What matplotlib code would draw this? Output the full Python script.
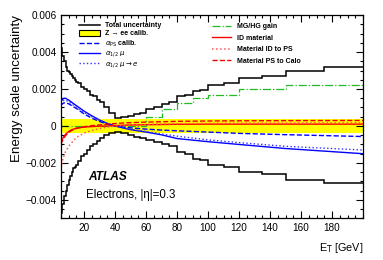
import matplotlib
matplotlib.use("Agg")
import matplotlib.pyplot as plt
import matplotlib.patches as mpatches
from matplotlib.lines import Line2D
from matplotlib.ticker import FixedLocator, MultipleLocator, FuncFormatter
import numpy as np

plt.rcParams['font.family'] = ['Liberation Sans', 'DejaVu Sans']

# total uncertainty, binned (GeV edges)
tot_edges = [5, 6, 7, 8, 9, 10, 11, 12, 13, 14, 15, 16, 18, 20, 22, 24, 26, 28, 30, 33, 36, 40,
             44, 48, 52, 56, 60, 65, 70, 75, 80, 85, 90, 95, 100, 110, 120, 135, 150, 175, 200]
tot_up = [0.0042, 0.0038, 0.0035, 0.0032, 0.0030, 0.0029, 0.0028, 0.0027, 0.0026, 0.0025,
          0.0024, 0.0023, 0.0021, 0.0020, 0.0019, 0.0017, 0.0016, 0.0014, 0.0013, 0.0010,
          0.0007, 0.00045, 0.00048, 0.00055, 0.00065, 0.00072, 0.00093, 0.0010, 0.0012, 0.00128,
          0.0016, 0.00165, 0.0019, 0.00195, 0.0022, 0.0023, 0.0026, 0.0027, 0.0030, 0.0032]
tot_down = [-0.0047, -0.0042, -0.0038, -0.0035, -0.0032, -0.0029, -0.0027, -0.0025, -0.0023, -0.0022,
            -0.0021, -0.0019, -0.00165, -0.0015, -0.0013, -0.0011, -0.00095, -0.0008, -0.00065, -0.0005,
            -0.0004, -0.00034, -0.0004, -0.0005, -0.00058, -0.00065, -0.00078, -0.00085, -0.0010, -0.0011,
            -0.0014, -0.0015, -0.0018, -0.00185, -0.0021, -0.0022, -0.0025, -0.0026, -0.0029, -0.0031]

# MG/HG gain, binned
gain_edges = [5, 60, 70, 80, 90, 100, 120, 150, 200]
gain = [0.0, 0.0005, 0.0009, 0.00123, 0.0015, 0.0017, 0.0020, 0.0022]

# smooth components
et = [5, 6, 7, 8, 10, 12, 15, 20, 25, 30, 35, 40, 45, 50, 60, 70, 80, 100, 120, 150, 200]
zee = [0.00037] * len(et)
a_ps = [0.0011, 0.0012, 0.00125, 0.00125, 0.0012, 0.0011, 0.00095, 0.00065, 0.00042, 0.00024, 0.0001,
        0.0, -0.00006, -0.0001, -0.00017, -0.00022, -0.00026, -0.00033, -0.0004, -0.00047, -0.00057]
a12_mu = [0.0013, 0.00145, 0.0015, 0.0015, 0.0014, 0.00128, 0.0011, 0.0008, 0.00055, 0.00032, 0.00014,
          0.0, -0.0001, -0.0002, -0.00033, -0.00048, -0.00068, -0.00085, -0.001, -0.00122, -0.0015]
a12_mue = [0.0012, 0.0013, 0.0014, 0.0014, 0.0013, 0.0012, 0.001, 0.00072, 0.0005, 0.0003, 0.00013,
           0.0, -0.0001, -0.00018, -0.0003, -0.00043, -0.00055, -0.00075, -0.0009, -0.0011, -0.0013]
id_mat = [-0.0009, -0.0007, -0.00055, -0.00045, -0.0003, -0.0002, -0.00012, -0.00006, -0.00003, -0.00001, 0.0,
          0.00002, 0.00004, 0.00005, 0.00007, 0.00008, 0.00009, 0.0001, 0.0001, 0.0001, 0.0001]
mat_id_ps = [-0.0023, -0.0019, -0.0016, -0.0014, -0.0011, -0.0009, -0.00062, -0.00038, -0.00024, -0.00014, -0.00006,
             0.0, 0.00003, 0.00005, 0.00008, 0.0001, 0.00012, 0.00014, 0.00015, 0.00016, 0.00017]
mat_ps_calo = [-0.001, -0.0008, -0.00065, -0.00052, -0.00035, -0.00024, -0.00013, -0.00004, 0.00002, 0.00006, 0.0001,
               0.00013, 0.00016, 0.00018, 0.00021, 0.00023, 0.00025, 0.00027, 0.00028, 0.00029, 0.0003]

fig = plt.figure(figsize=(3.83, 2.6), dpi=100)
ax = fig.add_axes([0.159, 0.160, 0.789, 0.782])

zee = np.array(zee)
ax.fill_between(et, -zee, zee, color='#ffff00', lw=0)
ax.plot(et, a_ps, color='#0000ff', ls='--', lw=1.0)
ax.plot(et, a12_mu, color='#0000ff', ls='-', lw=1.0)
ax.plot(et, a12_mue, color='#3333ff', ls=':', lw=1.0)
ax.stairs(gain, gain_edges, color='#22bb22', ls='-.', lw=0.9, baseline=None)
ax.plot(et, id_mat, color='#ff0000', ls='-', lw=1.0)
ax.plot(et, mat_id_ps, color='#ff5555', ls=':', lw=1.1)
ax.plot(et, mat_ps_calo, color='#ee0000', ls='--', lw=1.0)
ax.stairs(tot_up, tot_edges, color='black', lw=1.1, baseline=None)
ax.stairs(tot_down, tot_edges, color='black', lw=1.1, baseline=None)

ax.set_xlim(5, 200)
ax.set_ylim(-0.005, 0.006)
ax.xaxis.set_major_locator(FixedLocator([20, 40, 60, 80, 100, 120, 140, 160, 180]))
ax.xaxis.set_minor_locator(MultipleLocator(5))
ax.yaxis.set_major_locator(FixedLocator([-0.004, -0.002, 0.0, 0.002, 0.004, 0.006]))
ax.yaxis.set_minor_locator(MultipleLocator(0.0005))
ax.yaxis.set_major_formatter(FuncFormatter(
    lambda v, p: '0' if abs(v) < 1e-9 else f'{v:.3f}'.replace('-', '\u2212')))
ax.tick_params(which='both', direction='in', top=True, right=True, labelsize=7.2, width=0.8)
ax.tick_params(which='major', length=5, pad=3)
ax.tick_params(which='minor', length=2.5)
for s in ax.spines.values():
    s.set_linewidth(0.9)

ax.set_ylabel('Energy scale uncertainty', fontsize=9.6, loc='top')
ax.yaxis.set_label_coords(-0.125, 1.0)
ax.set_xlabel(r'E$_\mathrm{T}$ [GeV]', fontsize=7.8, loc='right')
ax.xaxis.set_label_coords(1.0, -0.11)

ax.text(0.089, 0.204, 'ATLAS', transform=ax.transAxes, fontsize=8.6,
        fontweight='bold', fontstyle='italic', va='center')
ax.text(0.083, 0.115, 'Electrons, |\u03b7|=0.3', transform=ax.transAxes, fontsize=8.3, va='center')

h_left = [Line2D([], [], color='black', lw=1.1),
          mpatches.Patch(facecolor='#ffff00', edgecolor='black', lw=0.8),
          Line2D([], [], color='#0000ff', ls='--', lw=1.0),
          Line2D([], [], color='#0000ff', ls='-', lw=1.0),
          Line2D([], [], color='#3333ff', ls=':', lw=1.0)]
l_left = ['Total uncertainty', 'Z \u2192 ee calib.', r'$\alpha_{\rm PS}$ calib.',
          r'$\alpha_{1/2}$ $\mu$', r'$\alpha_{1/2}$ $\mu \rightarrow e$']
h_right = [Line2D([], [], color='#22bb22', ls='-.', lw=0.9),
           Line2D([], [], color='#ff0000', ls='-', lw=1.0),
           Line2D([], [], color='#ff5555', ls=':', lw=1.1),
           Line2D([], [], color='#ee0000', ls='--', lw=1.0)]
l_right = ['MG/HG gain', 'ID material', 'Material ID to PS', 'Material PS to Calo']

leg1 = ax.legend(h_left, l_left, loc='upper left', bbox_to_anchor=(0.06, 0.965), frameon=False,
                 prop={'size': 5, 'weight': 'bold'}, handlelength=3.0, handleheight=0.8,
                 handletextpad=0.7, labelspacing=0.15, borderpad=0, borderaxespad=0)
ax.add_artist(leg1)
ax.legend(h_right, l_right, loc='upper left', bbox_to_anchor=(0.50, 0.96), frameon=False,
          prop={'size': 5, 'weight': 'bold'}, handlelength=2.7, handletextpad=0.9,
          labelspacing=0.65, borderpad=0, borderaxespad=0)

fig.savefig('out.png', dpi=100)
